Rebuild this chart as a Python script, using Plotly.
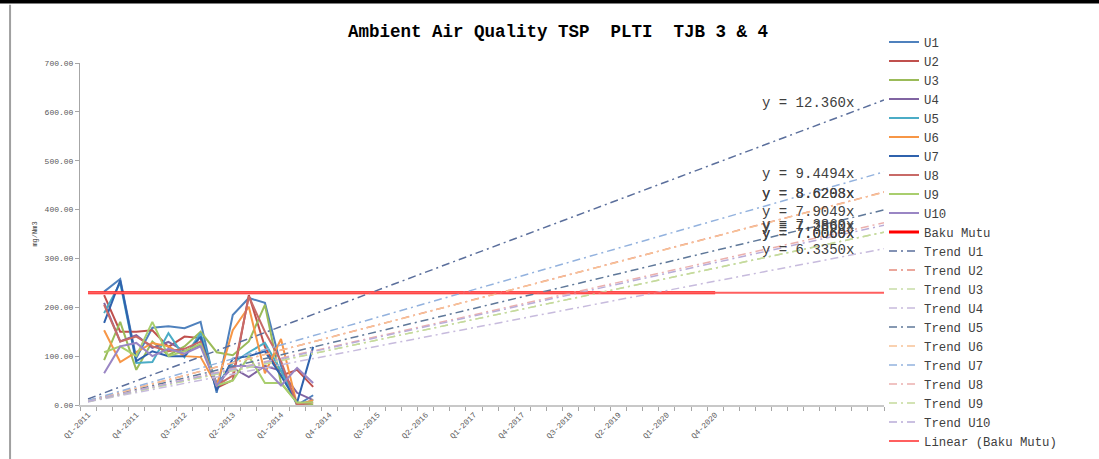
import plotly.graph_objects as go

# Quarter categories on the x axis (Q1-2011 .. Q4-2020)
years = list(range(2011, 2021))
quarters = [f"Q{q}-{y}" for y in years for q in range(1, 5)]
n_cat = len(quarters)                      # 40 categories
forecast_periods = 10.5                    # trend lines run past the last category
label_step = 3                             # every third quarter is labelled

# Measured TSP (mg/Nm3), first quarter has no measurement
U1 = [None, 232, 258, 96, 158, 161, 157, 170, 25, 184, 219, 209, 80, 0, 20]
U2 = [None, 225, 150, 150, 153, 119, 140, 137, 35, 51, 225, 119, 60, 72, 37]
U3 = [None, 92, 170, 72, 130, 102, 120, 150, 108, 102, 130, 205, 45, 5, 0]
U4 = [None, 209, 130, 143, 117, 129, 110, 123, 45, 76, 57, 80, 70, 25, 10]
U5 = [None, 188, 250, 86, 88, 147, 98, 147, 40, 86, 108, 127, 70, 0, 10]
U6 = [None, 153, 88, 108, 127, 120, 100, 98, 40, 153, 201, 65, 135, 0, 10]
U7 = [None, 168, 255, 90, 110, 100, 100, 140, 30, 95, 100, 110, 60, 5, 119]
U8 = [None, 205, 130, 140, 120, 110, 115, 130, 40, 60, 222, 150, 90, 0, 5]
U9 = [None, 108, 120, 100, 170, 100, 110, 125, 40, 50, 100, 45, 45, 5, 5]
U10 = [None, 65, 120, 127, 100, 115, 105, 120, 40, 80, 80, 75, 40, 76, 45]

series_names = ["U1", "U2", "U3", "U4", "U5", "U6", "U7", "U8", "U9", "U10"]
series_values = [U1, U2, U3, U4, U5, U6, U7, U8, U9, U10]

# Regulatory limit (Baku Mutu)
baku_mutu = 230

# Slopes of the linear trends through the origin (y = a*x)
trend_slopes = [12.360, 8.6298, 7.0069, 6.3350, 7.9049,
                8.6203, 9.4494, 7.3869, 7.0060, 7.2860]

series_colors = ["#4F81BD", "#C0504D", "#9BBB59", "#8064A2", "#4BACC6",
                 "#F79646", "#2F62AD", "#C86A67", "#A9CE6E", "#9A86C4"]
trend_colors = ["#5B6F9C", "#E58A7C", "#C8DDA6", "#C7BBDD", "#5F7899",
                "#F8C297", "#93B2DE", "#EBB0AE", "#C5DA9C", "#B9ACD8"]

FONT = "Liberation Mono, DejaVu Sans Mono, monospace"
x_cat = list(range(1, n_cat + 1))

fig = go.Figure()

for name, vals, col in zip(series_names, series_values, series_colors):
    fig.add_trace(go.Scatter(x=x_cat[:len(vals)], y=vals, name=name, mode="lines",
                             line=dict(color=col, width=2), connectgaps=False))

fig.add_trace(go.Scatter(x=x_cat, y=[baku_mutu] * n_cat, name="Baku Mutu",
                         mode="lines", line=dict(color="#FF0000", width=3)))

x_trend = [1, n_cat + forecast_periods]
for name, a, col in zip(series_names, trend_slopes, trend_colors):
    fig.add_trace(go.Scatter(x=x_trend, y=[a * x for x in x_trend], name=f"Trend {name}",
                             mode="lines",
                             line=dict(color=col, width=1.5, dash="8px,4px,2px,4px")))

fig.add_trace(go.Scatter(x=x_trend, y=[baku_mutu, baku_mutu], name="Linear (Baku Mutu)",
                         mode="lines", line=dict(color="#FF5F5F", width=2)))

# Trend equations written near the right end of each trend line
label_x = 42.8
for a in trend_slopes:
    fig.add_annotation(x=label_x, y=a * (n_cat + 10), text=f"y = {a:#.5g}x",
                       xanchor="left", yanchor="middle", showarrow=False,
                       font=dict(family=FONT, size=14, color="#404040"))

# Page border of the exported sheet
fig.add_shape(type="line", xref="paper", yref="paper", x0=-0.2, x1=1.3,
              y0=1.18, y1=1.18, line=dict(color="black", width=4))

tick_centers = x_cat[::label_step]
fig.update_layout(
    width=1099, height=459, autosize=False,
    margin=dict(l=80, r=215, t=63, b=54),
    paper_bgcolor="white", plot_bgcolor="white",
    title=dict(text="Ambient Air Quality TSP\u00a0\u00a0PLTI\u00a0\u00a0TJB 3 & 4",
               x=558 / 1099, xanchor="center", xref="container",
               y=1 - 31 / 459, yanchor="middle", yref="container",
               font=dict(family=FONT, size=17.5, color="black", weight="bold")),
    showlegend=True,
    legend=dict(x=1.0, xanchor="left", y=1.104, yanchor="top", maxheight=440,
                font=dict(family=FONT, size=12.3, color="#404040"),
                bgcolor="rgba(0,0,0,0)", tracegroupgap=0, itemwidth=30),
    xaxis=dict(range=[0.5, n_cat + forecast_periods], showgrid=False, zeroline=False,
               showline=True, linecolor="#C8C8C8", linewidth=2,
               tickmode="array", tickvals=tick_centers,
               ticktext=[quarters[i - 1] for i in tick_centers],
               ticks="", tickangle=-45,
               tickfont=dict(family=FONT, size=8, color="#595959"),
               minor=dict(tickmode="array",
                          tickvals=[i + 0.5 for i in range(0, n_cat + 11)],
                          ticks="outside", ticklen=4, tickcolor="#A6A6A6")),
    yaxis=dict(range=[0, 700], showgrid=False, zeroline=False,
               showline=True, linecolor="#A6A6A6", linewidth=1,
               tickmode="linear", tick0=0, dtick=100, tickformat=".2f",
               ticks="outside", ticklen=4, tickcolor="#A6A6A6",
               tickfont=dict(family=FONT, size=8, color="#595959"),
               title=dict(text="mg/Nm3", standoff=6,
                          font=dict(family=FONT, size=7, color="#404040"))),
)

# Left edge of the sheet border
fig.add_shape(type="line", xref="paper", yref="paper", x0=-0.087, x1=-0.087,
              y0=1.17, y1=-0.2, line=dict(color="#A0A0A0", width=2))

fig.write_html("out.html")
